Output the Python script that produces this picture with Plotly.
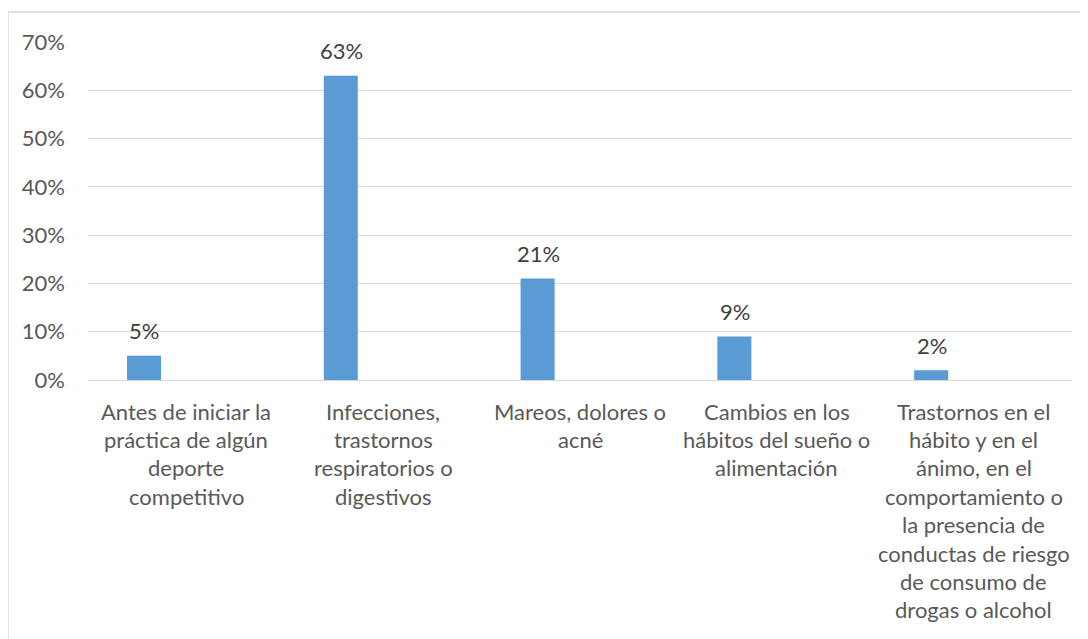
import plotly.graph_objects as go

categories = ["Antes", "Infecciones", "Mareos", "Cambios", "Trastornos"]
values = [0.05, 0.63, 0.21, 0.09, 0.02]
value_labels = ["5%", "63%", "21%", "9%", "2%"]
category_lines = [
    ["Antes de iniciar la", "práctica de algún", "deporte", "competitivo"],
    ["Infecciones,", "trastornos", "respiratorios o", "digestivos"],
    ["Mareos, dolores o", "acné"],
    ["Cambios en los", "hábitos del sueño o", "alimentación"],
    ["Trastornos en el", "hábito y en el", "ánimo, en el", "comportamiento o",
     "la presencia de", "conductas de riesgo", "de consumo de", "drogas o alcohol"],
]
y_tickvals = [0, 0.1, 0.2, 0.3, 0.4, 0.5, 0.6, 0.7]

FONT = "Lato"
TXT = "#595959"
GRID = "#D9D9D9"

fig = go.Figure()
fig.add_trace(go.Bar(
    x=categories, y=values,
    marker=dict(color="#5B9BD5", line=dict(width=0)),
    width=0.173, offset=-0.302,
    hoverinfo="skip",
))

annotations = []
for c, v, t in zip(categories, values, value_labels):
    annotations.append(dict(x=c, y=v, xref="x", yref="y", text=t, showarrow=False,
                            xshift=-42, yshift=25, yanchor="middle",
                            font=dict(family=FONT, size=22, color="#404040")))
for c, lines in zip(categories, category_lines):
    for i, line in enumerate(lines):
        annotations.append(dict(x=c, y=0, xref="x", yref="y", text=line, showarrow=False,
                                yanchor="middle", yshift=-(31 + 28.4 * i),
                                font=dict(family=FONT, size=22, color=TXT)))

fig.update_layout(
    width=1080, height=631,
    margin=dict(l=80, r=16, t=34, b=259),
    paper_bgcolor="white", plot_bgcolor="white",
    showlegend=False,
    annotations=annotations,
    xaxis=dict(type="category", range=[-0.5, 4.5], showticklabels=False,
               showgrid=False, showline=False, zeroline=False, ticks=""),
    yaxis=dict(range=[0, 0.7], tickvals=y_tickvals, tickformat=".0%",
               showgrid=True, gridcolor=GRID, gridwidth=1,
               zeroline=True, zerolinecolor=GRID, zerolinewidth=1,
               showline=False, ticks="", ticklabelstandoff=22,
               tickfont=dict(family=FONT, size=22, color=TXT)),
    shapes=[dict(type="rect", xref="paper", yref="paper",
                 x0=-0.0813, x1=1.03, y0=-0.8, y1=1.0888,
                 line=dict(color=GRID, width=1.5), fillcolor="rgba(0,0,0,0)",
                 layer="below")],
)

fig.write_html("out.html")
